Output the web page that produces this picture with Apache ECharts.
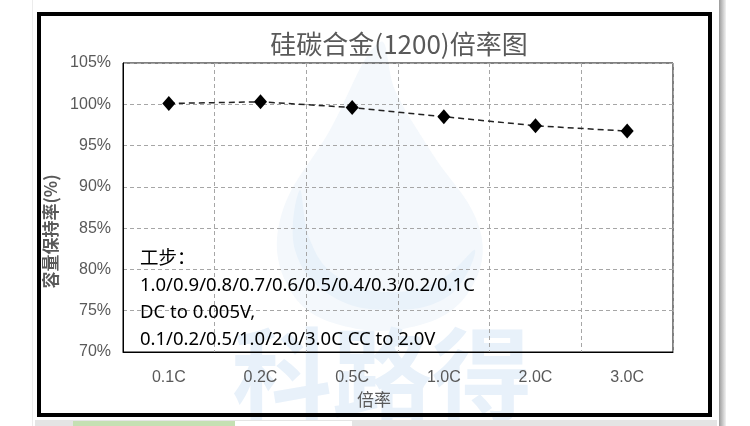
<!DOCTYPE html>
<html>
<head>
<meta charset="utf-8">
<script src="https://cdn.jsdelivr.net/npm/echarts@6/dist/echarts.min.js"></script>
<style>html,body{margin:0;padding:0;background:#fff;}#c{width:750px;height:426px;}</style>
</head>
<body>
<div id="c"></div>
<script>
const categories = ['0.1C', '0.2C', '0.5C', '1.0C', '2.0C', '3.0C'];
const retention = [100.1, 100.3, 99.6, 98.5, 97.4, 96.75];
const titleText = '硅碳合金(1200)倍率图';
const yName = '容量保持率(%)';
const xName = '倍率';
const noteLines = [
  '工步：',
  '1.0/0.9/0.8/0.7/0.6/0.5/0.4/0.3/0.2/0.1C',
  'DC to 0.005V,',
  '0.1/0.2/0.5/1.0/2.0/3.0C CC to 2.0V'
];
const watermarkText = '科路得';

const chart = echarts.init(document.getElementById('c'), null, {renderer: 'canvas'});
const labelColor = '#595959';
const fontFam = 'Liberation Sans, Noto Sans CJK SC, sans-serif';
const gridDash = {color: '#a6a6a6', type: [4, 3], width: 1};

const option = {
  backgroundColor: '#ffffff',
  animation: false,
  title: {
    text: titleText,
    left: 394,
    top: 26,
    textAlign: 'center',
    textStyle: {color: labelColor, fontSize: 26, fontWeight: 'normal', fontFamily: 'Noto Sans CJK SC, sans-serif'}
  },
  grid: {left: 123, right: 77, top: 63, bottom: 74, show: true, borderColor: '#000', borderWidth: 1, backgroundColor: 'transparent'},
  xAxis: {
    type: 'category',
    data: categories,
    boundaryGap: true,
    name: xName,
    nameLocation: 'middle',
    nameGap: 39,
    nameTextStyle: {color: labelColor, fontSize: 17, fontFamily: 'Noto Sans CJK SC, sans-serif', padding: [0, 48, 0, 0]},
    axisLine: {show: true, lineStyle: {color: '#000', width: 1}},
    axisTick: {show: false},
    axisLabel: {color: labelColor, fontSize: 16, margin: 18, fontFamily: fontFam},
    splitLine: {show: true, lineStyle: gridDash}
  },
  yAxis: {
    type: 'value',
    min: 70,
    max: 105,
    interval: 5,
    name: yName,
    nameLocation: 'middle',
    nameGap: 52,
    nameTextStyle: {color: labelColor, fontSize: 17, fontWeight: 'bold', fontFamily: 'Noto Sans CJK SC, sans-serif', padding: [0, 48, 0, 0]},
    axisLine: {show: true, lineStyle: {color: '#000', width: 1}},
    axisTick: {show: false},
    axisLabel: {color: labelColor, fontSize: 16, margin: 12, formatter: '{value}%', fontFamily: fontFam},
    splitLine: {show: true, lineStyle: gridDash}
  },
  series: [{
    type: 'line',
    data: retention,
    symbol: 'diamond',
    symbolSize: [13, 15],
    itemStyle: {color: '#000'},
    lineStyle: {color: '#222', width: 1.5, type: [6, 4]},
    z: 5
  }],
  graphic: [
    // watermark
    {type: 'polygon', z: -10, silent: true,
     shape: {points: [[380, 42], [330, 130], [280, 220], [290, 290], [340, 325], [420, 325], [470, 290], [480, 230], [430, 150], [395, 90]], smooth: 0.4},
     style: {fill: '#f4f8fc'}},
    {type: 'polygon', z: -9, silent: true,
     shape: {points: [[300, 190], [295, 250], [330, 295], [390, 310], [450, 295], [475, 250], [440, 280], [385, 292], [335, 275], [310, 240]], smooth: 0.4},
     style: {fill: '#e9f2fa'}},
    {type: 'text', z: -8, silent: true, x: 382, y: 374,
     style: {text: watermarkText, fill: '#e8f1fa', fontSize: 100, fontWeight: 'bold', fontFamily: 'Noto Sans CJK SC', align: 'center', verticalAlign: 'middle'}},
    // annotation
    {type: 'text', z: 20, x: 140, y: 245,
     style: {text: noteLines.join('\n'), fill: '#000', fontSize: 18.5, lineHeight: 27, fontFamily: 'Noto Sans, Noto Sans CJK SC, sans-serif', align: 'left', verticalAlign: 'top'}},
    // outer frame
    {type: 'rect', z: 30, shape: {x: 39, y: 14, width: 671, height: 401}, style: {fill: 'none', stroke: '#000', lineWidth: 4}},
    // right shadow
    {type: 'rect', z: 30, shape: {x: 719, y: 0, width: 7, height: 426},
     style: {fill: {type: 'linear', x: 0, y: 0, x2: 1, y2: 0, colorStops: [{offset: 0, color: '#9a9a9a'}, {offset: 1, color: '#f2f2f2'}]}}},
    {type: 'rect', z: 30, shape: {x: 32, y: 0, width: 1, height: 426}, style: {fill: '#ececec'}},
    // bottom strip (sheet tabs)
    {type: 'rect', z: 30, shape: {x: 35, y: 420, width: 682, height: 6}, style: {fill: '#e4e4e4'}},
    {type: 'rect', z: 31, shape: {x: 73, y: 421, width: 162, height: 5}, style: {fill: '#c5e0b3'}},
    {type: 'rect', z: 31, shape: {x: 235, y: 421, width: 117, height: 5}, style: {fill: '#ffffff'}}
  ]
};
chart.setOption(option);
</script>
</body>
</html>
